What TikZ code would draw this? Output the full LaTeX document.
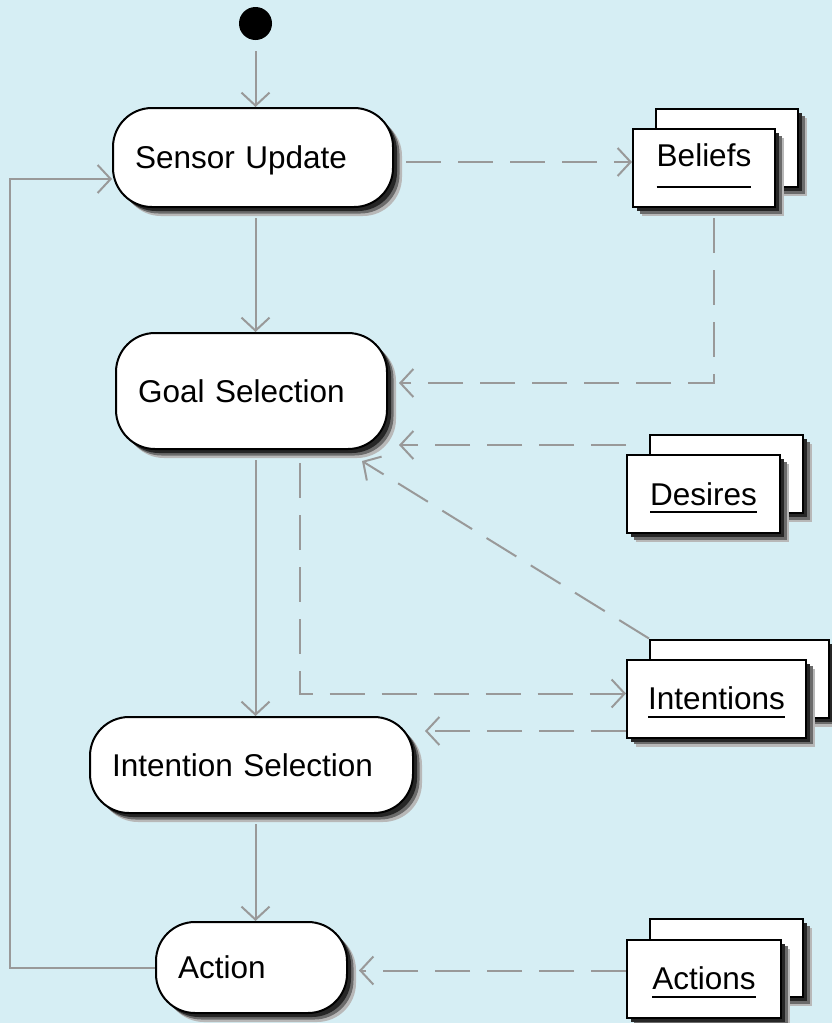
\documentclass[tikz,border=0pt]{standalone}
\usepackage{fontspec}
\setmainfont{Liberation Sans}
\usetikzlibrary{arrows.meta,shadows}
\definecolor{bg}{HTML}{D6EEF4}
\definecolor{lnc}{HTML}{999999}
\newcommand\fsz{\fontsize{31.5}{38}\selectfont}
\newcommand\ulA[1]{\setbox0\hbox{#1}\rlap{\copy0}\rule[-8pt]{\wd0}{2pt}}
\newcommand\ulB[1]{\setbox0\hbox{#1}\rlap{\copy0}\rule[-22pt]{\wd0}{2pt}}
\begin{document}
\begin{tikzpicture}[x=1pt,y=-1pt,
  shd/.style={general shadow={shadow xshift=9pt,shadow yshift=-9pt,fill=black!28},
              general shadow={shadow xshift=6.5pt,shadow yshift=-6.5pt,fill=black!58},
              general shadow={shadow xshift=4pt,shadow yshift=-4pt,fill=black!85}},
  activity/.style={shd, draw=black, line width=2pt, fill=white, rounded corners=39pt,
                   align=left, inner xsep=22pt, inner ysep=0pt, text depth=0pt, font=\fsz},
  obj/.style={shd, draw=black, line width=2pt, fill=white, inner sep=0pt,
              minimum height=78pt, font=\fsz},
  flow/.style={lnc, line width=2pt, -{Straight Barb[length=13pt,width=28pt]}},
  dep/.style={flow, dash pattern=on 35pt off 17pt}]
\useasboundingbox (0,0) rectangle (832,1023);
\fill[bg] (0,0) rectangle (832,1023);

% initial node
\node[circle, fill=black, minimum size=33pt, inner sep=0pt] (start) at (255.5,23.5) {};

% activities
\node[activity, text width=236pt, minimum height=99pt] (sensor) at (253,157.5) {Sensor Update};
\node[activity, text width=227pt, minimum height=116pt] (goal) at (251.5,391) {Goal Selection};
\node[activity, text width=279pt, minimum height=96pt] (intsel) at (251.5,765) {Intention Selection};
\node[activity, text width=147pt, minimum height=91pt] (action) at (251.5,967.5) {Action};

% object stacks
\node[obj, minimum width=142pt] (beliefsB) at (727,148) {};
\node[obj, minimum width=142pt, text depth=26pt] (beliefs) at (704,168) {\ulB{Beliefs}};
\node[obj, minimum width=153pt] (desiresB) at (726.5,474) {};
\node[obj, minimum width=153pt, text depth=0pt] (desires) at (703.5,494) {\ulA{Desires}};
\node[obj, minimum width=179pt] (intentionsB) at (739.5,678.5) {};
\node[obj, minimum width=179pt, text depth=0pt] (intentions) at (716.5,698.5) {\ulA{Intentions}};
\node[obj, minimum width=153pt] (actionsB) at (726.5,958) {};
\node[obj, minimum width=154pt, text depth=0pt] (actions) at (704,978.5) {\ulA{Actions}};

% control flow
\draw[flow] (start.south) ++(0,11) -- (start |- sensor.north);
\draw[flow] (sensor.south -| start) ++(0,10) -- (start |- goal.north);
\draw[flow] (goal.south -| start) ++(0,10) -- (start |- intsel.north);
\draw[flow] (intsel.south -| start) ++(0,10) -- (start |- action.north);
\draw[flow] (action.west) -- ++(-145,0) |- ([shift={(0,21.5)}]sensor.west);

% object flows
\draw[dep] (sensor.east) ++(12,4.5) -- (beliefs.west |- 0,162);
\draw[dep] (beliefs.south) ++(10,10) |- ([shift={(11,-8)}]goal.east);
\draw[dep] (desires.west |- 0,445) -- ([shift={(11,54)}]goal.east);
\draw[dep] (intentionsB.north west) -- ([shift={(-26,11)}]goal.south east);
\draw[dep] (goal.south) ++(48.5,13) |- ([shift={(0,-5)}]intentions.west);
\draw[dep] ([shift={(0,32.5)}]intentions.west) -- ([shift={(11,-34)}]intsel.east);
\draw[dep] ([shift={(0,-8)}]actions.west) -- ([shift={(11,3)}]action.east);
\end{tikzpicture}
\end{document}
